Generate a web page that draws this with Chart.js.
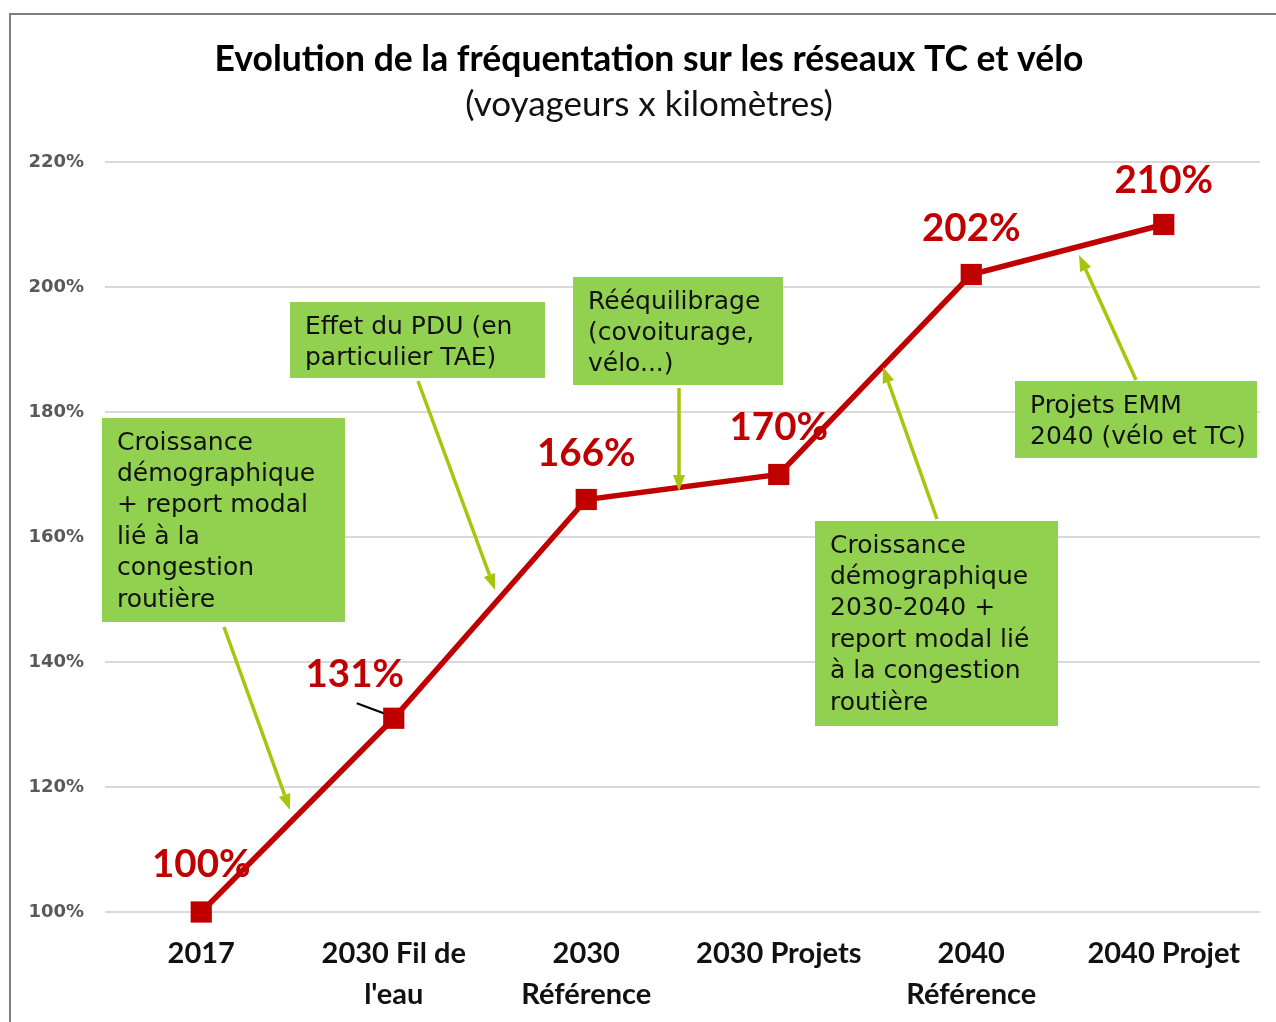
<!DOCTYPE html>
<html lang="fr">
<head>
<meta charset="utf-8">
<title>Evolution de la fréquentation sur les réseaux TC et vélo</title>
<script src="https://cdn.jsdelivr.net/npm/chart.js@4/dist/chart.umd.min.js"></script>
<style>
  html, body { margin: 0; padding: 0; background: #ffffff; }
  #wrap { position: relative; width: 1276px; height: 1022px; }
  canvas { display: block; }
</style>
</head>
<body>
<div id="wrap"><canvas id="chart" width="1276" height="1022"></canvas></div>
<script>
// Scenarios on the horizontal axis (multi-line labels)
const categories = [
  ['2017'],
  ['2030 Fil de', "l'eau"],
  ['2030', 'Référence'],
  ['2030 Projets'],
  ['2040', 'Référence'],
  ['2040 Projet']
];

// Ridership index (voyageurs x kilomètres), 2017 = 100 %
const frequentation = [100, 131, 166, 170, 202, 210];

// Vertical axis range and step
const yMin = 100;
const yMax = 220;
const yStep = 20;

const titleText = 'Evolution de la fréquentation sur les réseaux TC et vélo';
const subtitleText = '(voyageurs x kilomètres)';

// Explanatory call-outs: box rectangle, text lines, arrow from / to
const callouts = [
  { box: [102, 418, 243, 204], lines: ['Croissance', 'démographique', '+ report modal', 'lié à la', 'congestion', 'routière'],
    arrow: [224, 627, 290, 810] },
  { box: [290, 302, 255, 76], lines: ['Effet du PDU (en', 'particulier TAE)'],
    arrow: [418, 381, 495, 590] },
  { box: [573, 277, 210, 108], lines: ['Rééquilibrage', '(covoiturage,', 'vélo...)'],
    arrow: [679, 388, 679, 491] },
  { box: [815, 521, 243, 205], lines: ['Croissance', 'démographique', '2030-2040 +', 'report modal lié', 'à la congestion', 'routière'],
    arrow: [937, 519, 883, 367] },
  { box: [1015, 381, 242, 77], lines: ['Projets EMM', '2040 (vélo et TC)'],
    arrow: [1136, 380, 1079, 255] }
];

// Value-label placement relative to each point
const labelOffsets = [[0, -47], [-39, -44], [0, -46], [0, -47], [0, -46], [0, -44]];

const RED = '#c00000';
const ARROW = '#a8c40c';
const BOX = '#92d050';

function drawArrow(ctx, x1, y1, x2, y2) {
  const ang = Math.atan2(y2 - y1, x2 - x1);
  const head = 16, half = 6;
  const bx = x2 - head * Math.cos(ang), by = y2 - head * Math.sin(ang);
  ctx.save();
  ctx.strokeStyle = ARROW;
  ctx.fillStyle = ARROW;
  ctx.lineWidth = 3.5;
  ctx.beginPath();
  ctx.moveTo(x1, y1);
  ctx.lineTo(bx, by);
  ctx.stroke();
  ctx.beginPath();
  ctx.moveTo(x2, y2);
  ctx.lineTo(bx + half * Math.sin(ang), by - half * Math.cos(ang));
  ctx.lineTo(bx - half * Math.sin(ang), by + half * Math.cos(ang));
  ctx.closePath();
  ctx.fill();
  ctx.restore();
}

// Frame, title and subtitle
const framePlugin = {
  id: 'frame',
  beforeDraw(chart) {
    const ctx = chart.ctx;
    ctx.save();
    ctx.fillStyle = '#ffffff';
    ctx.fillRect(0, 0, chart.width, chart.height);
    ctx.strokeStyle = '#7f7f7f';
    ctx.lineWidth = 2;
    ctx.beginPath();
    ctx.moveTo(10, chart.height + 2);
    ctx.lineTo(10, 14);
    ctx.lineTo(chart.width + 2, 14);
    ctx.stroke();
    ctx.fillStyle = '#000000';
    ctx.textAlign = 'center';
    ctx.textBaseline = 'middle';
    ctx.font = 'bold 35.5px Lato';
    ctx.fillText(titleText, 649, 60);
    ctx.font = '35px Lato';
    ctx.fillStyle = '#111111';
    ctx.fillText(subtitleText, 649, 105);
    ctx.restore();
  }
};

// Percentage labels above the points (the line is drawn over them)
const valueLabelPlugin = {
  id: 'valueLabels',
  beforeDatasetsDraw(chart) {
    const ctx = chart.ctx;
    const meta = chart.getDatasetMeta(0);
    ctx.save();
    ctx.font = 'bold 38.5px Lato';
    ctx.fillStyle = RED;
    ctx.textAlign = 'center';
    ctx.textBaseline = 'middle';
    meta.data.forEach((pt, i) => {
      const [dx, dy] = labelOffsets[i];
      ctx.fillText(frequentation[i] + '%', pt.x + dx, pt.y + dy);
    });
    // leader line for the shifted 131 % label
    const p = meta.data[1];
    ctx.strokeStyle = '#000000';
    ctx.lineWidth = 2;
    ctx.beginPath();
    ctx.moveTo(p.x - 37, p.y - 15);
    ctx.lineTo(p.x - 2, p.y - 2);
    ctx.stroke();
    ctx.restore();
  }
};

// Green call-out boxes and their arrows
const calloutPlugin = {
  id: 'callouts',
  afterDatasetsDraw(chart) {
    const ctx = chart.ctx;
    ctx.save();
    callouts.forEach(c => {
      const [x, y, w, h] = c.box;
      ctx.fillStyle = BOX;
      ctx.fillRect(x, y, w, h);
      ctx.fillStyle = '#111111';
      ctx.font = '25px "DejaVu Sans"';
      ctx.textAlign = 'left';
      ctx.textBaseline = 'middle';
      c.lines.forEach((t, k) => ctx.fillText(t, x + 15, y + 25 + k * 31.4));
    });
    callouts.forEach(c => drawArrow(ctx, ...c.arrow));
    ctx.restore();
  }
};

new Chart(document.getElementById('chart'), {
  type: 'line',
  data: {
    labels: categories,
    datasets: [{
      data: frequentation,
      borderColor: RED,
      backgroundColor: RED,
      borderWidth: 5.5,
      pointStyle: 'rect',
      pointRadius: 15,
      pointHoverRadius: 15,
      pointBorderWidth: 0,
      pointBackgroundColor: RED,
      tension: 0,
      fill: false,
      clip: false
    }]
  },
  options: {
    responsive: false,
    animation: false,
    devicePixelRatio: 1,
    layout: { padding: { top: 162, right: 16, left: 0, bottom: 0 } },
    plugins: {
      legend: { display: false },
      tooltip: { enabled: false },
      title: { display: false }
    },
    scales: {
      x: {
        type: 'category',
        offset: true,
        grid: { display: false, drawTicks: false, tickLength: 0 },
        border: { display: false },
        ticks: {
          color: '#111111',
          font: { family: 'Lato', size: 29, weight: 'bold', lineHeight: 1.42 },
          padding: 21,
          maxRotation: 0,
          autoSkip: false
        },
        afterFit(scale) { scale.height = 110; }
      },
      y: {
        min: yMin,
        max: yMax,
        grid: { color: '#d9d9d9', lineWidth: 2, drawTicks: false, tickLength: 0 },
        border: { display: false },
        ticks: {
          stepSize: yStep,
          color: '#595959',
          font: { family: 'DejaVu Sans', size: 18, weight: 'bold' },
          padding: 21,
          callback: v => v + '%'
        },
        afterFit(scale) { scale.width = 105; }
      }
    }
  },
  plugins: [framePlugin, valueLabelPlugin, calloutPlugin]
});
</script>
</body>
</html>
